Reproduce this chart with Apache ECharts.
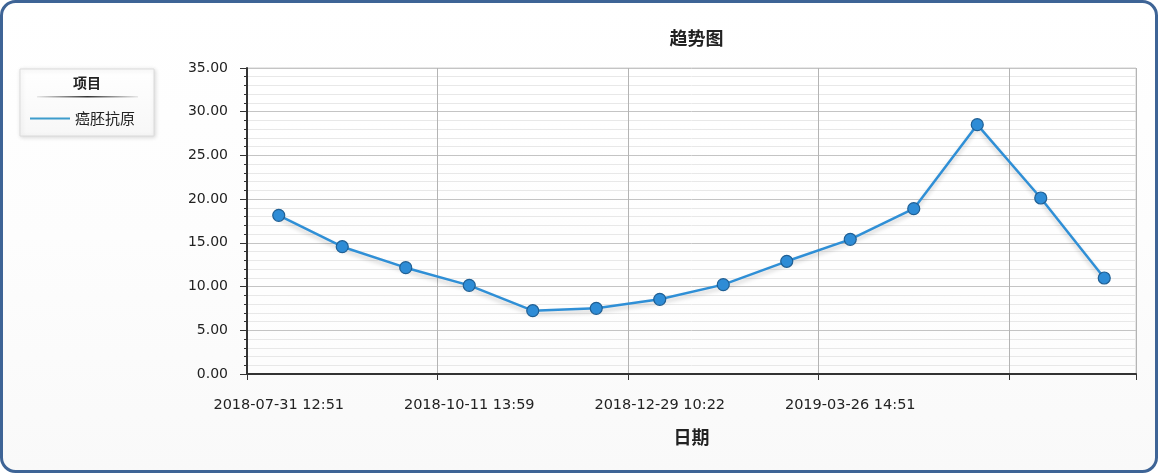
<!DOCTYPE html>
<html>
<head>
<meta charset="utf-8">
<script src="https://cdn.jsdelivr.net/npm/echarts@6/dist/echarts.min.js"></script>
<style>
html,body{margin:0;padding:0;background:#fff;}
#c{width:1158px;height:473px;}
</style>
</head>
<body>
<div id="c"></div>
<script>
const categories = [
  '2018-07-31 12:51','2018-08-24 09:12','2018-09-17 10:35','2018-10-11 13:59',
  '2018-11-05 11:20','2018-12-02 09:48','2018-12-29 10:22','2019-01-25 15:06',
  '2019-02-26 10:40','2019-03-26 14:51','2019-04-23 09:30','2019-05-21 11:15',
  '2019-06-18 10:05','2019-07-16 14:20'
];
const values = [18.15, 14.56, 12.16, 10.14, 7.24, 7.51, 8.54, 10.22, 12.89, 15.40, 18.91, 28.52, 20.13, 10.98];
const seriesName = '癌胚抗原';
const yTicks = [0, 5, 10, 15, 20, 25, 30, 35];
const labelShown = [0, 3, 6, 9];

const chart = echarts.init(document.getElementById('c'), null, {renderer: 'canvas'});
const font = 'DejaVu Sans';
chart.setOption({
  animation: false,
  backgroundColor: 'transparent',
  title: {
    text: '趋势图',
    left: 691.5, top: 24, textAlign: 'center',
    textStyle: {fontSize: 18, fontWeight: 'bold', color: '#222', fontFamily: 'Noto Sans CJK SC'}
  },
  graphic: [
    {type: 'rect', z: -10, silent: true,
      shape: {x: 1.5, y: 1.5, width: 1155, height: 470, r: 14},
      style: {
        fill: new echarts.graphic.LinearGradient(0, 0, 0, 1, [
          {offset: 0, color: '#ffffff'}, {offset: 0.5, color: '#fdfdfd'}, {offset: 1, color: '#f9f9f9'}]),
        stroke: '#3e6496', lineWidth: 3
      }},
    {type: 'rect', z: -5, silent: true,
      shape: {x: 20, y: 69, width: 134, height: 67},
      style: {
        fill: new echarts.graphic.LinearGradient(0, 0, 0, 1, [
          {offset: 0, color: '#ffffff'}, {offset: 1, color: '#f7f7f7'}]),
        stroke: '#dcdcdc', lineWidth: 1,
        shadowColor: 'rgba(0,0,0,0.15)', shadowBlur: 4, shadowOffsetX: 1, shadowOffsetY: 1
      }},
    {type: 'text', z: 5, silent: true, x: 87, y: 83,
      style: {text: '项目', fill: '#222', font: 'bold 14px "Noto Sans CJK SC"', align: 'center', verticalAlign: 'middle'}},
    {type: 'rect', z: 5, silent: true,
      shape: {x: 37, y: 96, width: 101, height: 1.5},
      style: {fill: new echarts.graphic.LinearGradient(0, 0, 1, 0, [
        {offset: 0, color: 'rgba(60,60,60,0.1)'}, {offset: 0.5, color: 'rgba(40,40,40,0.95)'}, {offset: 1, color: 'rgba(60,60,60,0.1)'}])}}
  ],
  legend: {
    left: 25, top: 106,
    itemWidth: 40, itemHeight: 2, icon: 'rect',
    itemStyle: {color: '#3d9ccc', borderWidth: 0},
    textStyle: {fontSize: 15, color: '#222', fontFamily: 'Noto Sans CJK SC'},
    data: [seriesName]
  },
  grid: {
    left: 247, right: 22, top: 68, bottom: 99,
    show: true, backgroundColor: 'rgba(255,255,255,0.6)', borderColor: '#d0d0d0', borderWidth: 1
  },
  xAxis: {
    type: 'category',
    data: categories,
    boundaryGap: true,
    name: '日期', nameLocation: 'middle', nameGap: 54,
    nameTextStyle: {fontSize: 18, fontWeight: 'bold', color: '#222', fontFamily: 'Noto Sans CJK SC'},
    axisLine: {lineStyle: {color: '#333', width: 2}},
    axisTick: {show: true, alignWithLabel: false, length: 6, interval: (i) => i % 3 === 0, lineStyle: {color: '#333'}},
    axisLabel: {
      interval: (i) => labelShown.indexOf(i) >= 0,
      margin: 24, fontSize: 14.5, color: '#222', fontFamily: font
    },
    splitLine: {show: true, interval: (i) => i % 3 === 0, lineStyle: {color: '#b4b4b4', width: 1}}
  },
  yAxis: {
    type: 'value',
    min: yTicks[0], max: yTicks[yTicks.length - 1], interval: 5,
    axisLine: {show: true, lineStyle: {color: '#333', width: 2}},
    axisTick: {show: true, length: 7, lineStyle: {color: '#333'}},
    minorTick: {show: true, splitNumber: 5, length: 3, lineStyle: {color: '#333'}},
    axisLabel: {margin: 19, fontSize: 14, color: '#222', fontFamily: font, formatter: (v) => v.toFixed(2)},
    splitLine: {show: true, lineStyle: {color: '#c4c4c4', width: 1}},
    minorSplitLine: {show: true, lineStyle: {color: '#e8e8e8', width: 1}}
  },
  series: [{
    name: seriesName,
    type: 'line',
    data: values,
    symbol: 'circle', symbolSize: 12,
    lineStyle: {color: '#2f8fd6', width: 2.5, shadowColor: 'rgba(0,0,0,0.2)', shadowBlur: 4, shadowOffsetY: 3},
    itemStyle: {color: '#2e8cd6', borderColor: '#1f5f94', borderWidth: 1.2},
    z: 3
  }]
});
</script>
</body>
</html>
